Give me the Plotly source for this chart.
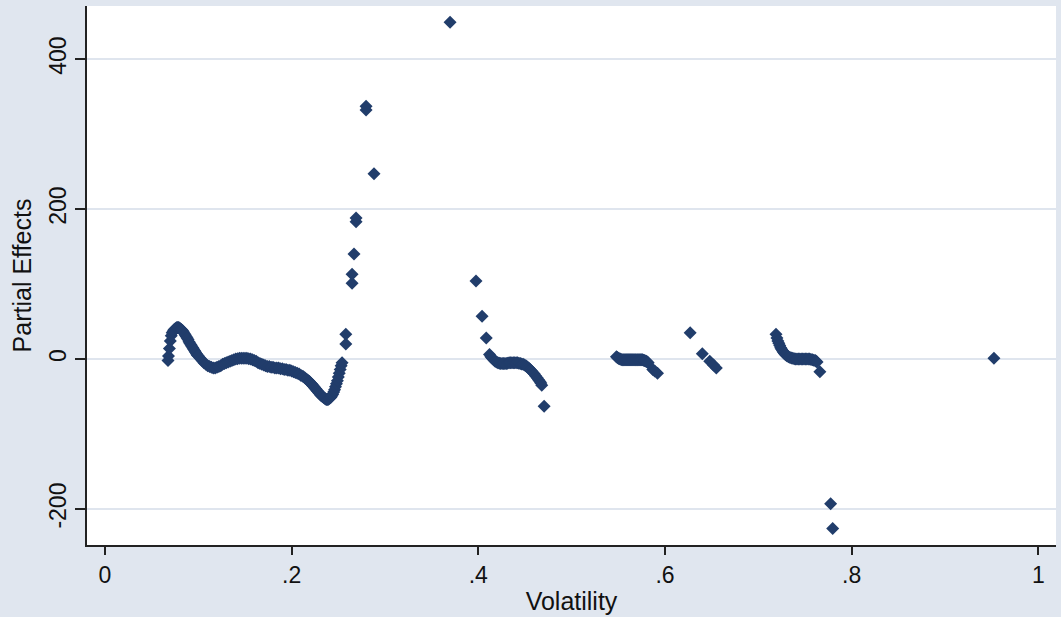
import plotly.graph_objects as go

# ---- data (Volatility vs Partial Effects) ----
c1_x = [0.0675, 0.068, 0.069, 0.070, 0.071, 0.072, 0.073, 0.074, 0.075, 0.076, 0.077, 0.078, 0.079, 0.080,
        0.081, 0.082, 0.083, 0.084, 0.085, 0.086, 0.087, 0.088, 0.089, 0.090, 0.091, 0.092, 0.093, 0.094,
        0.095, 0.096, 0.097, 0.098, 0.099, 0.100,
        0.102, 0.104, 0.106, 0.108, 0.110, 0.112, 0.114, 0.116, 0.118, 0.120,
        0.122, 0.124, 0.126, 0.128, 0.130, 0.132, 0.134, 0.136, 0.138, 0.140,
        0.142, 0.144, 0.146, 0.148, 0.150, 0.152, 0.154, 0.156, 0.158, 0.160,
        0.162, 0.164, 0.166, 0.168, 0.170, 0.172, 0.174, 0.176, 0.178, 0.180,
        0.182, 0.184, 0.186, 0.188, 0.190, 0.192, 0.194, 0.196, 0.198, 0.200,
        0.202, 0.204, 0.206, 0.208, 0.210, 0.212, 0.214, 0.216, 0.218, 0.219, 0.220,
        0.221, 0.222, 0.223, 0.224, 0.225, 0.226, 0.227, 0.228, 0.229, 0.230, 0.231, 0.232, 0.233, 0.234,
        0.235, 0.236, 0.237, 0.238, 0.239, 0.240, 0.241, 0.242, 0.243, 0.244, 0.245, 0.246, 0.247, 0.248,
        0.249, 0.250, 0.251, 0.252, 0.253, 0.254]
c1_y = [-2, 4, 14, 24, 31, 35, 37, 39, 40, 41, 42, 42, 42, 41,
        40, 39, 38, 36, 34, 32, 30, 28, 26, 23, 21, 19, 17, 15,
        13, 11, 9, 7, 5, 4,
        1, -2, -5, -7, -9, -10, -11, -12, -12, -11,
        -10, -9, -7, -6, -5, -4, -3, -2, -1, 0,
        0.5, 1, 1, 1, 1, 1, 0.5, 0, -1, -2,
        -3, -5, -6, -7, -8, -9, -10, -10, -11, -11,
        -12, -12, -12, -13, -13, -14, -14, -15, -15, -16,
        -17, -18, -19, -20, -22, -23, -25, -27, -29, -30, -32,
        -33, -34, -36, -37, -39, -40, -42, -43, -45, -46, -48, -49, -50, -51,
        -52, -53, -54, -54, -54, -53, -52, -51, -49, -47, -44, -41, -37, -33,
        -29, -24, -19, -14, -9, -5]

spike_x = [0.258, 0.258, 0.2647, 0.2647, 0.2668, 0.269, 0.269, 0.2797, 0.2797, 0.2882, 0.3697]
spike_y = [20, 33, 101, 113, 140, 183, 188, 332, 337, 247, 449]

c3_x = [0.3975, 0.404, 0.4085,
        0.412, 0.4135, 0.415, 0.4165, 0.418, 0.4195, 0.421, 0.4225, 0.424, 0.4255,
        0.427, 0.4285, 0.430, 0.4315, 0.433, 0.4345, 0.436, 0.4375, 0.439, 0.4405,
        0.442, 0.4435, 0.445, 0.4465, 0.448, 0.4495, 0.451, 0.4525, 0.454, 0.4555,
        0.457, 0.4585, 0.460, 0.4615, 0.463, 0.4645, 0.466, 0.467, 0.468,
        0.4705]
c3_y = [104, 57, 28,
        6, 3, 1, -1, -3, -4, -5, -5.5, -6, -6,
        -6, -6, -6, -5.5, -5, -5, -5, -5, -5, -5,
        -5, -5.5, -6, -6.5, -7, -8, -9, -10.5, -12, -14,
        -16, -18, -20, -22.5, -25, -27.5, -30, -32, -35,
        -63]

c4_x = [0.548, 0.549, 0.550, 0.551, 0.552, 0.553, 0.554, 0.555, 0.556, 0.557,
        0.558, 0.559, 0.560, 0.561, 0.562, 0.563, 0.564, 0.565, 0.566, 0.567,
        0.568, 0.569, 0.570, 0.571, 0.572, 0.573, 0.574, 0.575, 0.576, 0.577,
        0.578, 0.579, 0.580, 0.581, 0.582, 0.587, 0.589, 0.592]
c4_y = [3, 2, 1, 0.5, 0, -0.5, -1, -1, -1, -1,
        -1, -1, -1, -1, -1, -1, -1, -1, -1, -1,
        -1, -1, -1, -1, -1, -1, -1, -1, -1, -1.5,
        -2, -2.5, -3, -4, -5, -14, -16, -19]

c5_x = [0.627, 0.640, 0.648, 0.652, 0.655]
c5_y = [35, 7, -3, -8, -12]

c6_x = [0.719, 0.720, 0.721, 0.722, 0.723, 0.724, 0.725, 0.726, 0.727, 0.728,
        0.729, 0.730, 0.731, 0.7325, 0.734, 0.7355, 0.737, 0.7385, 0.740, 0.7415,
        0.743, 0.7445, 0.746, 0.7475, 0.749, 0.7505, 0.752, 0.7535, 0.755, 0.7565,
        0.758, 0.7595, 0.761, 0.762, 0.763, 0.766,
        0.7775, 0.7797, 0.9525]
c6_y = [33, 28, 24, 21, 18, 15, 13, 11, 9, 7.5,
        6, 5, 4, 3, 2, 1.5, 1, 0.5, 0, 0,
        0, 0, 0, 0, 0, 0, 0, 0, 0, -0.5,
        -1, -1.5, -2, -3, -4, -17,
        -193, -226, 1]

x_ticks = [0, 0.2, 0.4, 0.6, 0.8, 1]
x_tick_text = ["0", ".2", ".4", ".6", ".8", "1"]
y_ticks = [-200, 0, 200, 400]
y_tick_text = ["-200", "0", "200", "400"]

xs = c1_x + spike_x + c3_x + c4_x + c5_x + c6_x
ys = c1_y + spike_y + c3_y + c4_y + c5_y + c6_y

MARK = "#213d6b"
BG = "#e0e6ef"
FONT = "Liberation Sans, Arial, sans-serif"

fig = go.Figure()
fig.add_trace(go.Scatter(
    x=xs, y=ys, mode="markers",
    marker=dict(symbol="diamond", size=10, color=MARK, line=dict(width=0)),
    showlegend=False, cliponaxis=False,
))

fig.update_layout(
    width=1061, height=617,
    paper_bgcolor=BG, plot_bgcolor="white",
    margin=dict(l=87, r=5, t=6, b=72),
    font=dict(family=FONT, color="#111111"),
    xaxis=dict(
        range=[-0.0193, 1.019], tickvals=x_ticks, ticktext=x_tick_text,
        showgrid=False, zeroline=False,
        showline=True, linecolor="#222222", linewidth=2,
        ticks="outside", ticklen=8, tickwidth=2, tickcolor="#222222",
        tickfont=dict(size=23, family=FONT, color="#111111"),
        title=dict(text="Volatility", font=dict(size=25, family=FONT, color="#111111"), standoff=6),
    ),
    yaxis=dict(
        range=[-248, 470.7], tickvals=y_ticks, ticktext=y_tick_text,
        tickangle=-90,
        showgrid=True, gridcolor="#dfe5ee", gridwidth=1.5, zeroline=False,
        showline=True, linecolor="#222222", linewidth=2,
        ticks="outside", ticklen=10, tickwidth=2, tickcolor="#222222",
        tickfont=dict(size=23, family=FONT, color="#111111"),
        title=dict(text="Partial Effects", font=dict(size=25, family=FONT, color="#111111"), standoff=6),
    ),
)

fig.write_html("out.html")
